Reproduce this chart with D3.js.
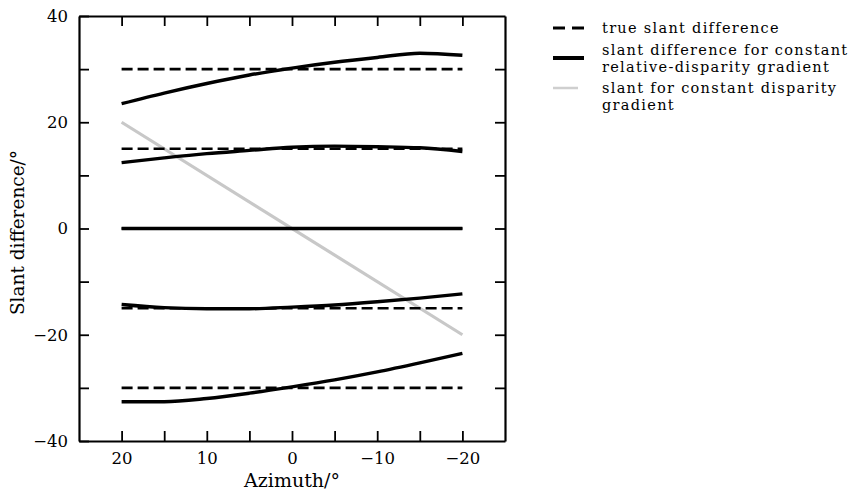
<!DOCTYPE html>
<html>
<head>
<meta charset="utf-8">
<script src="https://cdn.jsdelivr.net/npm/d3@7"></script>
<style>
    body { margin: 0; background: #fff; }
    svg text { font-family: "DejaVu Serif", "Liberation Serif", "Times New Roman", serif; }
</style>
</head>
<body>
<div id="chart"></div>
<script>
'use strict';

// azimuth samples (deg), left to right
const azimuth = [20, 15, 10, 5, 0, -5, -10, -15, -20];
// true slant differences (dashed)
const trueSlant = [30, 15, 0, -15, -30];
// slant difference for constant relative-disparity gradient (solid)
const relCurves = [
    [23.5, 25.5, 27.3, 28.9, 30.2, 31.3, 32.2, 33.0, 32.6],
    [12.4, 13.3, 14.1, 14.7, 15.3, 15.5, 15.4, 15.2, 14.5],
    [0, 0, 0, 0, 0, 0, 0, 0, 0],
    [-14.3, -14.9, -15.1, -15.1, -14.8, -14.4, -13.8, -13.1, -12.3],
    [-32.6, -32.6, -32.0, -31.0, -29.8, -28.5, -27.0, -25.3, -23.5]
];
// slant for constant disparity gradient (grey)
const constAz = [20, -20];
const constSlant = [20, -20];

const xTicks = [20, 15, 10, 5, 0, -5, -10, -15, -20];
const yTicks = [40, 30, 20, 10, 0, -10, -20, -30, -40];
const legendItems = [
    {type: 'dash', lines: ['true slant difference']},
    {type: 'solid', lines: ['slant difference for constant', 'relative-disparity gradient']},
    {type: 'grey', lines: ['slant for constant disparity', 'gradient']}
];

const width = 856, height = 492;
const margin = {left: 79, right: 351, top: 16, bottom: 51};
const serif = '"DejaVu Serif", "Liberation Serif", serif';

const svg = d3.select('#chart').append('svg')
    .attr('width', width)
    .attr('height', height);

const x = d3.scaleLinear().domain([25, -25]).range([margin.left, width - margin.right]);
const y = d3.scaleLinear().domain([-40, 40]).range([height - margin.bottom, margin.top]);

const fmt = d3.format('d');
const labelEvery = (d) => (d % 20 === 0 ? fmt(d) : '');
const labelTen = (d) => (d % 10 === 0 ? fmt(d) : '');

function styleAxis(g) {
    g.select('.domain').attr('stroke', '#000').attr('stroke-width', 2.2);
    g.selectAll('.tick line').attr('stroke', '#000').attr('stroke-width', 1.8);
    g.selectAll('.tick text').attr('font-size', 16.5).attr('fill', '#000')
        .attr('font-family', serif);
}

// bottom
svg.append('g')
    .attr('transform', `translate(0,${y(-40)})`)
    .call(d3.axisBottom(x).tickValues(xTicks).tickFormat(labelTen).tickSizeInner(-10).tickSizeOuter(0).tickPadding(11))
    .call(styleAxis);
// top
svg.append('g')
    .attr('transform', `translate(0,${y(40)})`)
    .call(d3.axisTop(x).tickValues(xTicks).tickFormat('').tickSizeInner(-10).tickSizeOuter(0))
    .call(styleAxis);
// left
svg.append('g')
    .attr('transform', `translate(${x(25)},0)`)
    .call(d3.axisLeft(y).tickValues(yTicks).tickFormat(labelEvery).tickSizeInner(-10).tickSizeOuter(0).tickPadding(11))
    .call(styleAxis);
// right
svg.append('g')
    .attr('transform', `translate(${x(-25)},0)`)
    .call(d3.axisRight(y).tickValues(yTicks.slice(1, -1)).tickFormat('').tickSizeInner(-10).tickSizeOuter(0))
    .call(styleAxis);

// grey constant-disparity line
const greyLine = d3.line().x(d => x(d[0])).y(d => y(d[1]));
svg.append('path')
    .datum(constAz.map((a, i) => [a, constSlant[i]]))
    .attr('d', greyLine)
    .attr('fill', 'none')
    .attr('stroke', '#c8c8c8')
    .attr('stroke-width', 3.2);

// dashed true slant lines
svg.selectAll('.true-line')
    .data(trueSlant)
    .join('line')
    .attr('class', 'true-line')
    .attr('x1', x(azimuth[0]))
    .attr('x2', x(azimuth[azimuth.length - 1]))
    .attr('y1', d => y(d))
    .attr('y2', d => y(d))
    .attr('stroke', '#000')
    .attr('stroke-width', 2.6)
    .attr('stroke-dasharray', '11,5');

// solid curves
const curve = d3.line()
    .x((d, i) => x(azimuth[i]))
    .y(d => y(d))
    .curve(d3.curveMonotoneX);
svg.selectAll('.rel-line')
    .data(relCurves)
    .join('path')
    .attr('class', 'rel-line')
    .attr('d', curve)
    .attr('fill', 'none')
    .attr('stroke', '#000')
    .attr('stroke-width', 3.4);

// axis titles
svg.append('text')
    .attr('transform', `translate(24,${y(0) + 4}) rotate(-90)`)
    .attr('text-anchor', 'middle')
    .attr('font-size', 18.5)
    .text('Slant difference/°');
svg.append('text')
    .attr('x', x(0))
    .attr('y', 487)
    .attr('text-anchor', 'middle')
    .attr('font-size', 19)
    .text('Azimuth/°');

// legend
const legend = svg.append('g').attr('transform', 'translate(553,0)');
const rowTops = [28, 50, 88];
const sampleY = [28, 58, 88];
legendItems.forEach((item, i) => {
    const sample = legend.append('line')
        .attr('x1', 0).attr('x2', 31)
        .attr('y1', sampleY[i]).attr('y2', sampleY[i]);
    if (item.type === 'dash') {
        sample.attr('stroke', '#000').attr('stroke-width', 3.2).attr('stroke-dasharray', '12,7');
    } else if (item.type === 'solid') {
        sample.attr('stroke', '#000').attr('stroke-width', 4);
    } else {
        sample.attr('x2', 25).attr('stroke', '#cfcfcf').attr('stroke-width', 2.5);
    }
    item.lines.forEach((t, j) => {
        legend.append('text')
            .attr('x', 49)
            .attr('y', rowTops[i] + j * 17 + 5)
            .attr('font-size', 14.5)
            .attr('letter-spacing', 1.3)
            .text(t);
    });
});
</script>
</body>
</html>
